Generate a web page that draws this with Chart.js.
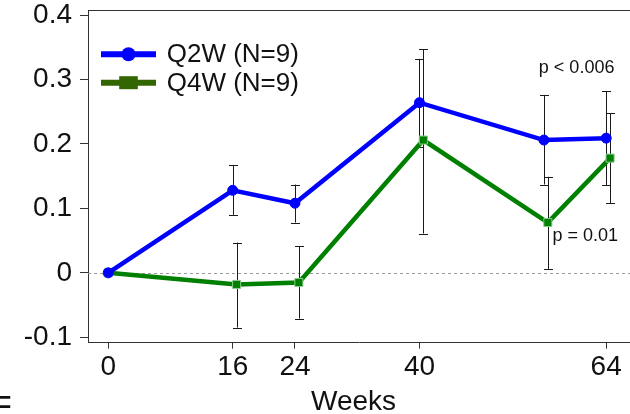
<!DOCTYPE html>
<html>
<head>
<meta charset="utf-8">
<script src="https://cdn.jsdelivr.net/npm/chart.js@4"></script>
<style>
  html, body { margin: 0; padding: 0; background: #fff; overflow: hidden; }
</style>
</head>
<body>
<canvas id="c" width="630" height="414"></canvas>
<script>
// weeks for each group (Q4W is drawn slightly offset to the right)
const q2wWeeks = [0, 16, 24, 40, 56, 64];
const q4wWeeks = [0, 16.5, 24.5, 40.5, 56.5, 64.5];

// mean change and error bar ends
const q2wMean = [0, 0.128, 0.108, 0.264, 0.206, 0.209];
const q2wLow  = [0, 0.090, 0.078, 0.196, 0.137, 0.136];
const q2wHigh = [0, 0.167, 0.137, 0.332, 0.276, 0.282];

const q4wMean = [0, -0.018, -0.015, 0.206, 0.078, 0.178];
const q4wLow  = [0, -0.085, -0.071, 0.061, 0.006, 0.108];
const q4wHigh = [0, 0.047, 0.041, 0.347, 0.149, 0.248];

const xTicks = [0, 16, 24, 40, 64];
const yTicks = [-0.1, 0, 0.1, 0.2, 0.3, 0.4];
const yTickLabels = ['-0.1', '0', '0.1', '0.2', '0.3', '0.4'];

const seriesNames = ['Q2W (N=9)', 'Q4W (N=9)'];
const xTitle = 'Weeks';
const pNotes = [
  { text: 'p < 0.006', x: 60.2, y: 0.317, align: 'center' },
  { text: 'p = 0.01', x: 57.1, y: 0.057, align: 'left' }
];

const BLUE = '#0000ff';
const GREEN = '#008000';
const LEGEND_GREEN = '#336600';
const FONT = '"Liberation Sans", Arial, sans-serif';

function pts(xs, ys) {
  return xs.map((x, i) => ({ x: x, y: ys[i] }));
}

// zero line, error bars, frame, legend and notes
const extras = {
  id: 'extras',
  beforeDatasetsDraw(chart) {
    const { ctx, chartArea: a, scales: { x, y } } = chart;
    ctx.save();
    // dashed zero reference line
    ctx.strokeStyle = '#9a9a9a';
    ctx.lineWidth = 1;
    ctx.setLineDash([3, 3]);
    const y0 = Math.round(y.getPixelForValue(0)) + 0.5;
    ctx.beginPath();
    ctx.moveTo(a.left, y0);
    ctx.lineTo(a.right, y0);
    ctx.stroke();
    ctx.setLineDash([]);

    // error bars
    ctx.strokeStyle = '#1a1a1a';
    ctx.lineWidth = 1;
    const bars = [[q2wWeeks, q2wLow, q2wHigh], [q4wWeeks, q4wLow, q4wHigh]];
    bars.forEach(([wk, lo, hi]) => {
      wk.forEach((w, i) => {
        if (lo[i] === hi[i]) return;
        const px = Math.round(x.getPixelForValue(w)) + 0.5;
        const pl = y.getPixelForValue(lo[i]);
        const ph = y.getPixelForValue(hi[i]);
        ctx.beginPath();
        ctx.moveTo(px, pl); ctx.lineTo(px, ph);
        ctx.moveTo(px - 4.5, Math.round(pl) + 0.5); ctx.lineTo(px + 4.5, Math.round(pl) + 0.5);
        ctx.moveTo(px - 4.5, Math.round(ph) + 0.5); ctx.lineTo(px + 4.5, Math.round(ph) + 0.5);
        ctx.stroke();
      });
    });
    ctx.restore();
  },
  afterDraw(chart) {
    const { ctx, chartArea: a, scales: { x, y } } = chart;
    ctx.save();
    // top frame line
    ctx.strokeStyle = '#333';
    ctx.lineWidth = 1;
    ctx.beginPath();
    ctx.moveTo(a.left, Math.round(a.top) + 0.5);
    ctx.lineTo(a.right, Math.round(a.top) + 0.5);
    ctx.stroke();

    // legend
    const lx1 = 101, lx2 = 156, lxm = 128.5;
    const rows = [54.3, 82.7];
    ctx.lineWidth = 6;
    ctx.strokeStyle = BLUE;
    ctx.beginPath(); ctx.moveTo(lx1, rows[0]); ctx.lineTo(lx2, rows[0]); ctx.stroke();
    ctx.fillStyle = BLUE;
    ctx.beginPath(); ctx.arc(lxm, rows[0], 7, 0, Math.PI * 2); ctx.fill();
    ctx.strokeStyle = LEGEND_GREEN;
    ctx.beginPath(); ctx.moveTo(lx1, rows[1]); ctx.lineTo(lx2, rows[1]); ctx.stroke();
    ctx.fillStyle = LEGEND_GREEN;
    ctx.fillRect(lxm - 9.3, rows[1] - 6.5, 18.6, 13);
    ctx.fillStyle = '#111';
    ctx.font = '26px ' + FONT;
    ctx.textAlign = 'left';
    ctx.textBaseline = 'middle';
    seriesNames.forEach((s, i) => ctx.fillText(s, 166.7, rows[i] + 1));

    // x axis title, sits a little left of the plot centre
    ctx.font = '28px ' + FONT;
    ctx.textAlign = 'center';
    ctx.textBaseline = 'alphabetic';
    ctx.fillText(xTitle, 353.5, 409.5);

    // p-value notes
    ctx.font = '18px ' + FONT;
    ctx.textBaseline = 'middle';
    pNotes.forEach(n => {
      ctx.textAlign = n.align;
      ctx.fillText(n.text, x.getPixelForValue(n.x), y.getPixelForValue(n.y));
    });

    // clipped leftover glyph at the lower left corner
    ctx.font = '36px ' + FONT;
    ctx.textAlign = 'right';
    ctx.textBaseline = 'alphabetic';
    ctx.fillText('=', 12, 414);
    ctx.restore();
  }
};

new Chart(document.getElementById('c'), {
  type: 'line',
  data: {
    datasets: [
      {
        label: seriesNames[0],
        data: pts(q2wWeeks, q2wMean),
        borderColor: BLUE,
        backgroundColor: BLUE,
        borderWidth: 4.5,
        pointStyle: 'circle',
        pointRadius: 5,
        pointBorderWidth: 1,
        tension: 0
      },
      {
        label: seriesNames[1],
        data: pts(q4wWeeks, q4wMean),
        borderColor: GREEN,
        backgroundColor: GREEN,
        borderWidth: 4.5,
        pointStyle: 'rect',
        pointRadius: 5.7,
        pointBorderColor: '#8fc98f',
        pointBorderWidth: 1,
        tension: 0
      }
    ]
  },
  options: {
    responsive: false,
    animation: false,
    layout: { autoPadding: false, padding: { top: 10, right: 0, left: 0, bottom: 0 } },
    plugins: { legend: { display: false }, tooltip: { enabled: false } },
    scales: {
      x: {
        type: 'linear',
        min: -2.6,
        max: 67.06,
        afterBuildTicks: s => { s.ticks = xTicks.map(v => ({ value: v })); },
        afterFit: s => {
          s.height = 71.3;
          s.paddingLeft = 0; s.paddingRight = 0;
        },
        grid: { drawOnChartArea: false, drawTicks: true, tickLength: 6, color: '#333' },
        border: { color: '#333', width: 1 },
        ticks: { color: '#111', font: { size: 28, family: FONT }, padding: 2, maxRotation: 0, autoSkip: false }
      },
      y: {
        min: -0.1084,
        max: 0.4078,
        afterBuildTicks: s => { s.ticks = yTicks.map(v => ({ value: v })); },
        afterFit: s => {
          s.width = 88;
          s.paddingTop = 0; s.paddingBottom = 0;
        },
        grid: { drawOnChartArea: false, drawTicks: true, tickLength: 8, color: '#333' },
        border: { color: '#333', width: 1 },
        ticks: {
          color: '#111',
          font: { size: 28, family: FONT },
          padding: 8,
          callback: v => yTickLabels[yTicks.findIndex(t => Math.abs(t - v) < 1e-9)]
        }
      }
    }
  },
  plugins: [extras]
});
</script>
</body>
</html>
